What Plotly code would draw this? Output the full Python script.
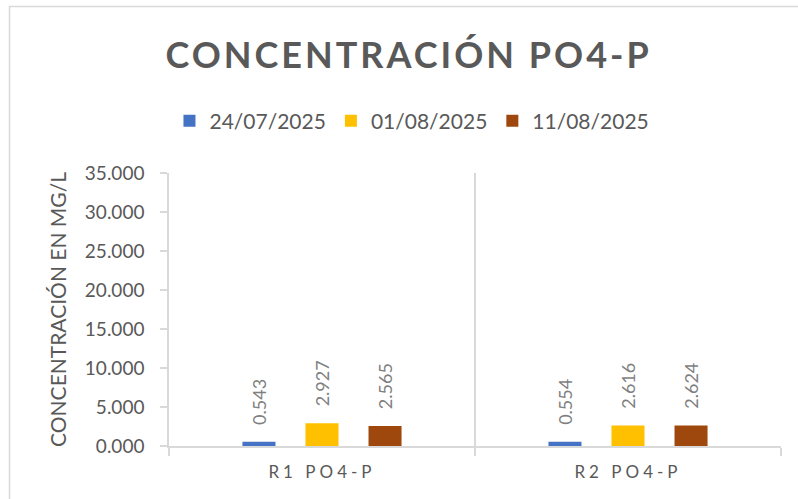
import plotly.graph_objects as go

categories = ["R1 PO4-P", "R2 PO4-P"]
series_names = ["24/07/2025", "01/08/2025", "11/08/2025"]
values_0724 = [0.543, 0.554]
values_0108 = [2.927, 2.616]
values_1108 = [2.565, 2.624]
colors = ["#4472C4", "#FFC000", "#9E480E"]

FONT = "Lato, 'Open Sans', sans-serif"
GRAY = "#595959"
LINE = "#D9D9D9"

fig = go.Figure()
for name, vals, col in zip(series_names, [values_0724, values_0108, values_1108], colors):
    fig.add_trace(go.Bar(
        name=name, x=categories, y=vals, marker=dict(color=col, line=dict(width=0)),
        texttemplate="\u00a0\u00a0\u00a0%{y:.3f}", textposition="outside", textangle=-90,
        constraintext="none",
        textfont=dict(family=FONT, size=18, color="#7F7F7F"), cliponaxis=False,
    ))

ticktext = ['<span style="letter-spacing:4px">%s</span>' % c for c in categories]

fig.update_layout(
    width=798, height=499, autosize=False,
    margin=dict(l=169, r=17, t=173, b=53),
    paper_bgcolor="white", plot_bgcolor="white",
    barmode="group", bargap=0.382, bargroupgap=0.476,
    font=dict(family=FONT, color=GRAY),
    title=dict(text='<span style="letter-spacing:3px"><b>CONCENTRACIÓN PO4-P</b></span>',
               x=0.512, xanchor="center", y=0.888, yanchor="middle",
               font=dict(family=FONT, size=36, color=GRAY)),
    legend=dict(orientation="h", x=0.397, xanchor="center", y=1.19, yanchor="middle",
                font=dict(family=FONT, size=21, color=GRAY), itemsizing="constant",
                traceorder="normal"),
    showlegend=True,
    xaxis=dict(type="category", tickmode="array", tickvals=categories, ticktext=ticktext,
               tickson="boundaries", showgrid=True, gridcolor=LINE, gridwidth=1.5,
               showline=True, linecolor=LINE, linewidth=1.5,
               ticks="outside", ticklen=8, tickcolor=LINE, tickwidth=1.5,
               ticklabelstandoff=10,
               tickfont=dict(family=FONT, size=17, color=GRAY), zeroline=False),
    yaxis=dict(range=[0, 35], dtick=5, tickformat=".3f", showgrid=False,
               showline=True, linecolor=LINE, linewidth=1.5,
               ticks="outside", ticklen=7, tickcolor=LINE, tickwidth=1.5,
               ticklabelstandoff=12,
               tickfont=dict(family=FONT, size=19, color=GRAY), zeroline=False,
               title=dict(text="CONCENTRACIÓN EN MG/L", standoff=13,
                          font=dict(family=FONT, size=21, color=GRAY))),
)

fig.add_shape(type="rect", xref="paper", yref="paper",
              x0=(9.5 - 169) / 612, x1=(802 - 169) / 612,
              y0=(446 - 505) / 273, y1=(446 - 6.5) / 273,
              line=dict(color=LINE, width=1.5), fillcolor="rgba(0,0,0,0)", layer="below")

fig.write_html("out.html", config={"displayModeBar": False},
               post_script="document.body.style.margin='0';")
